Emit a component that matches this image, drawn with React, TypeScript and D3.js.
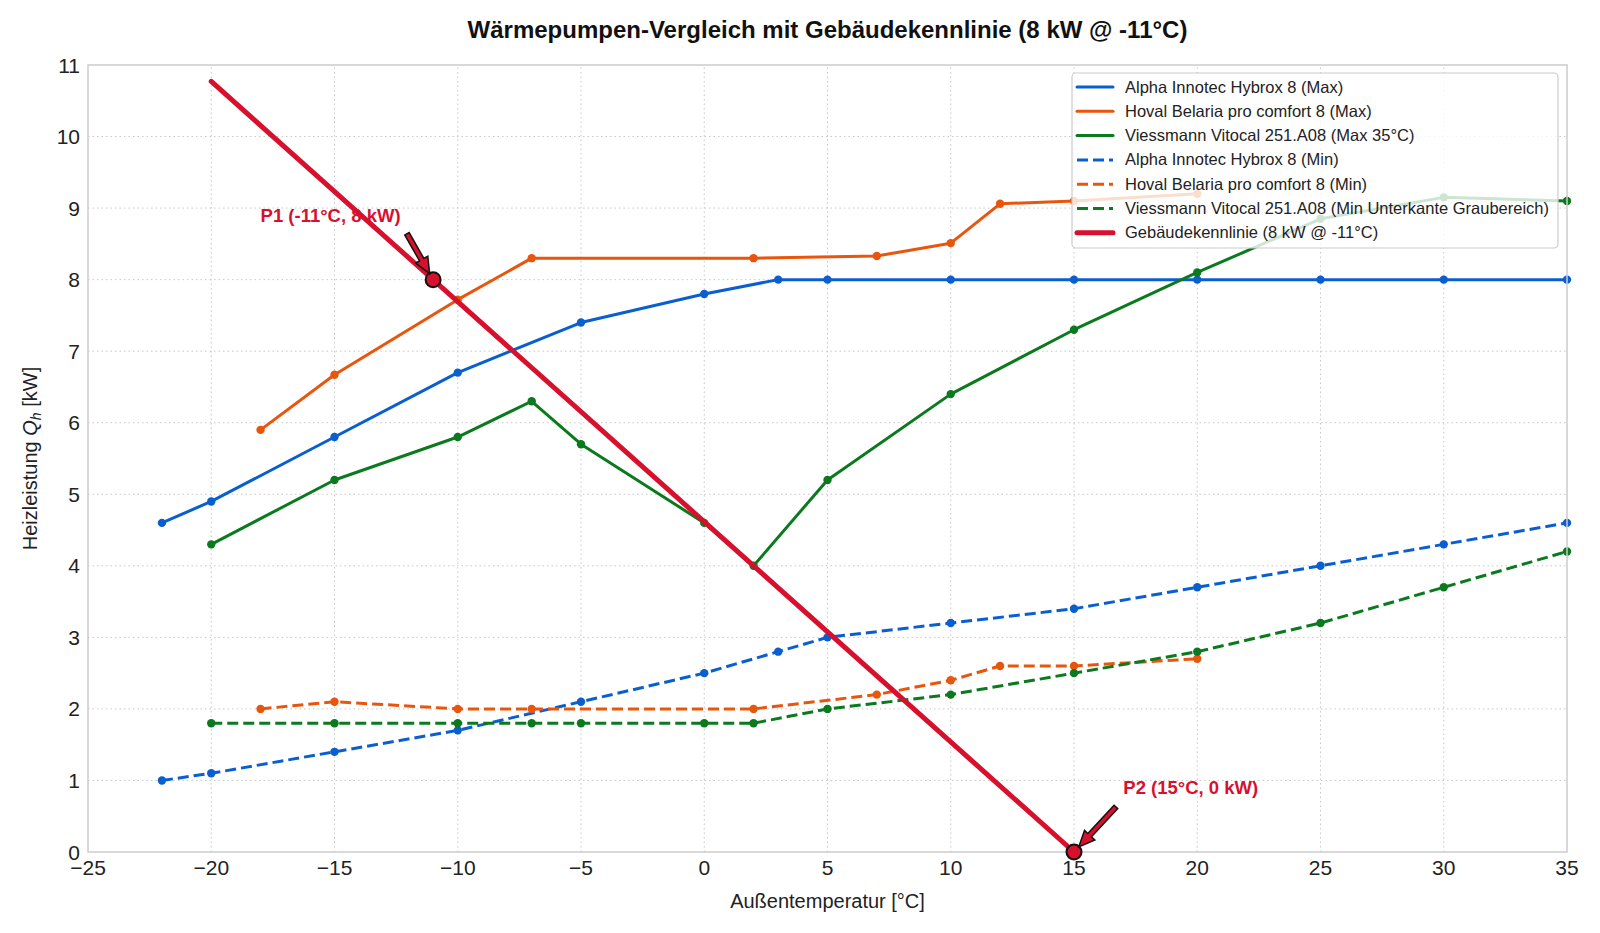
import React from 'react';
import * as d3 from 'd3';

const W = 1600;
const H = 933;
const M = { left: 88, right: 33, top: 65, bottom: 81 };

const X_TICKS = [-25, -20, -15, -10, -5, 0, 5, 10, 15, 20, 25, 30, 35];
const Y_TICKS = [0, 1, 2, 3, 4, 5, 6, 7, 8, 9, 10, 11];

const alphaMaxT = [-22, -20, -15, -10, -5, 0, 3, 5, 10, 15, 20, 25, 30, 35];
const alphaMaxQ = [4.6, 4.9, 5.8, 6.7, 7.4, 7.8, 8.0, 8.0, 8.0, 8.0, 8.0, 8.0, 8.0, 8.0];
const hovalMaxT = [-18, -15, -10, -7, 2, 7, 10, 12, 15, 20];
const hovalMaxQ = [5.9, 6.67, 7.72, 8.3, 8.3, 8.33, 8.51, 9.06, 9.1, 9.2];
const viessMaxT = [-20, -15, -10, -7, -5, 0, 2, 5, 10, 15, 20, 25, 30, 35];
const viessMaxQ = [4.3, 5.2, 5.8, 6.3, 5.7, 4.6, 4.0, 5.2, 6.4, 7.3, 8.1, 8.85, 9.15, 9.1];
const alphaMinT = [-22, -20, -15, -10, -5, 0, 3, 5, 10, 15, 20, 25, 30, 35];
const alphaMinQ = [1.0, 1.1, 1.4, 1.7, 2.1, 2.5, 2.8, 3.0, 3.2, 3.4, 3.7, 4.0, 4.3, 4.6];
const hovalMinT = [-18, -15, -10, -7, 2, 7, 10, 12, 15, 20];
const hovalMinQ = [2.0, 2.1, 2.0, 2.0, 2.0, 2.2, 2.4, 2.6, 2.6, 2.7];
const viessMinT = [-20, -15, -10, -7, -5, 0, 2, 5, 10, 15, 20, 25, 30, 35];
const viessMinQ = [1.8, 1.8, 1.8, 1.8, 1.8, 1.8, 1.8, 2.0, 2.2, 2.5, 2.8, 3.2, 3.7, 4.2];

// Gebäudekennlinie: 8 kW bei -11°C, 0 kW bei 15°C
const buildingT = [-20, 15];
const buildingQ = [10.77, 0];

const BLUE = '#0a5fd0';
const ORANGE = '#e8560e';
const GREEN = '#0b7a1f';
const RED = '#d7102e';

const series = [
  { name: 'Alpha Innotec Hybrox 8 (Max)', t: alphaMaxT, q: alphaMaxQ, color: BLUE, dash: false },
  { name: 'Hoval Belaria pro comfort 8 (Max)', t: hovalMaxT, q: hovalMaxQ, color: ORANGE, dash: false },
  { name: 'Viessmann Vitocal 251.A08 (Max 35°C)', t: viessMaxT, q: viessMaxQ, color: GREEN, dash: false },
  { name: 'Alpha Innotec Hybrox 8 (Min)', t: alphaMinT, q: alphaMinQ, color: BLUE, dash: true },
  { name: 'Hoval Belaria pro comfort 8 (Min)', t: hovalMinT, q: hovalMinQ, color: ORANGE, dash: true },
  { name: 'Viessmann Vitocal 251.A08 (Min Unterkante Graubereich)', t: viessMinT, q: viessMinQ, color: GREEN, dash: true },
];

const annotations = [
  { label: 'P1 (-11°C, 8 kW)', x: -11, y: 8, textX: -18.0, textY: 8.81, tailX: -12.06, tailY: 8.64 },
  { label: 'P2 (15°C, 0 kW)', x: 15, y: 0, textX: 17.0, textY: 0.81, tailX: 16.7, tailY: 0.63 },
];

const FONT = '"Liberation Sans", Arial, sans-serif';

function arrowPath(x0: number, y0: number, x1: number, y1: number) {
  // shaft + head, tip at (x1, y1)
  const dx = x1 - x0;
  const dy = y1 - y0;
  const len = Math.hypot(dx, dy);
  const ux = dx / len;
  const uy = dy / len;
  const px = -uy;
  const py = ux;
  const sw = 2.5;
  const hw = 7;
  const hl = 16;
  const bx = x1 - ux * hl;
  const by = y1 - uy * hl;
  const pts = [
    [x0 + px * sw, y0 + py * sw],
    [bx + px * sw, by + py * sw],
    [bx + px * hw, by + py * hw],
    [x1, y1],
    [bx - px * hw, by - py * hw],
    [bx - px * sw, by - py * sw],
    [x0 - px * sw, y0 - py * sw],
  ];
  return 'M' + pts.map((p) => p.join(',')).join('L') + 'Z';
}

export default function App() {
  const x = d3.scaleLinear().domain([-25, 35]).range([M.left, W - M.right]);
  const y = d3.scaleLinear().domain([0, 11]).range([H - M.bottom, M.top]);

  const line = d3
    .line<[number, number]>()
    .x((d) => x(d[0]))
    .y((d) => y(d[1]));

  const pts = (t: number[], q: number[]) => t.map((v, i) => [v, q[i]] as [number, number]);

  const legendItems = [
    ...series.map((s) => ({ name: s.name, color: s.color, dash: s.dash, width: 3 })),
    { name: 'Gebäudekennlinie (8 kW @ -11°C)', color: RED, dash: false, width: 5 },
  ];

  const lgX = 1072;
  const lgY = 73;

  return (
    <div style={{ position: 'absolute', left: 0, top: 0 }}>
      <svg width={W} height={H} viewBox={`0 0 ${W} ${H}`} style={{ display: 'block', background: '#fff' }} fontFamily={FONT}>
        {/* grid */}
        <g stroke="#c8c8c8" strokeWidth={1} strokeDasharray="1.5 3">
          {X_TICKS.slice(1, -1).map((t) => (
            <line key={'gx' + t} x1={x(t)} x2={x(t)} y1={y(0)} y2={y(11)} />
          ))}
          {Y_TICKS.slice(1, -1).map((t) => (
            <line key={'gy' + t} x1={x(-25)} x2={x(35)} y1={y(t)} y2={y(t)} />
          ))}
        </g>

        {/* series */}
        {series.map((s) => (
          <g key={s.name}>
            <path
              d={line(pts(s.t, s.q)) || ''}
              fill="none"
              stroke={s.color}
              strokeWidth={3}
              strokeDasharray={s.dash ? '11 5' : undefined}
              strokeLinejoin="round"
            />
            {s.t.map((t, i) => (
              <circle key={i} cx={x(t)} cy={y(s.q[i])} r={4.2} fill={s.color} />
            ))}
          </g>
        ))}

        {/* building line */}
        <path d={line(pts(buildingT, buildingQ)) || ''} fill="none" stroke={RED} strokeWidth={5} strokeLinecap="round" />

        {/* spines */}
        <rect x={x(-25)} y={y(11)} width={x(35) - x(-25)} height={y(0) - y(11)} fill="none" stroke="#cccccc" strokeWidth={1.5} />

        {/* annotation markers and arrows */}
        {annotations.map((a) => {
          const cx = x(a.x);
          const cy = y(a.y);
          const tx = x(a.tailX);
          const ty = y(a.tailY);
          const d = Math.hypot(cx - tx, cy - ty);
          const tipX = tx + ((cx - tx) * (d - 7)) / d;
          const tipY = ty + ((cy - ty) * (d - 7)) / d;
          return (
            <g key={a.label}>
              <circle cx={cx} cy={cy} r={7.5} fill={RED} stroke="#111" strokeWidth={2} />
              <path d={arrowPath(tx, ty, tipX, tipY)} fill={RED} stroke="#111" strokeWidth={1.5} strokeLinejoin="miter" />
              <text x={x(a.textX)} y={y(a.textY)} fill={RED} fontSize={18.5} fontWeight="bold">
                {a.label}
              </text>
            </g>
          );
        })}

        {/* tick labels */}
        <g fontSize={21} fill="#222">
          {X_TICKS.map((t) => (
            <text key={'tx' + t} x={x(t)} y={y(0) + 23} textAnchor="middle">
              {t < 0 ? '\u2212' + Math.abs(t) : t}
            </text>
          ))}
          {Y_TICKS.map((t) => (
            <text key={'ty' + t} x={x(-25) - 8} y={y(t) + 7.5} textAnchor="end">
              {t}
            </text>
          ))}
        </g>

        {/* axis labels */}
        <text x={(x(-25) + x(35)) / 2} y={908} textAnchor="middle" fontSize={20} fill="#222">
          Außentemperatur [°C]
        </text>
        <text
          transform={`translate(37, ${(y(0) + y(11)) / 2}) rotate(-90)`}
          textAnchor="middle"
          fontSize={20}
          fill="#222"
        >
          Heizleistung <tspan fontStyle="italic">Q</tspan>
          <tspan fontStyle="italic" fontSize={14} dy={4}>h</tspan>
          <tspan dy={-4}> [kW]</tspan>
        </text>

        {/* title */}
        <text x={(x(-25) + x(35)) / 2} y={38} textAnchor="middle" fontSize={24} fontWeight="bold" fill="#111">
          Wärmepumpen-Vergleich mit Gebäudekennlinie (8 kW @ -11°C)
        </text>

        {/* legend */}
        <g>
          <rect x={lgX} y={lgY} width={486} height={175} rx={4} fill="#fff" fillOpacity={0.8} stroke="#cccccc" strokeWidth={1.2} />
          {legendItems.map((it, i) => {
            const cy = lgY + 14 + i * 24.3;
            return (
              <g key={it.name}>
                <line
                  x1={lgX + 5}
                  x2={lgX + 41}
                  y1={cy}
                  y2={cy}
                  stroke={it.color}
                  strokeWidth={it.width}
                  strokeDasharray={it.dash ? '11 5' : undefined}
                  strokeLinecap={it.dash ? 'butt' : 'round'}
                />
                <text x={lgX + 53} y={cy + 5.5} fontSize={16.5} fill="#222">
                  {it.name}
                </text>
              </g>
            );
          })}
        </g>
      </svg>
    </div>
  );
}
